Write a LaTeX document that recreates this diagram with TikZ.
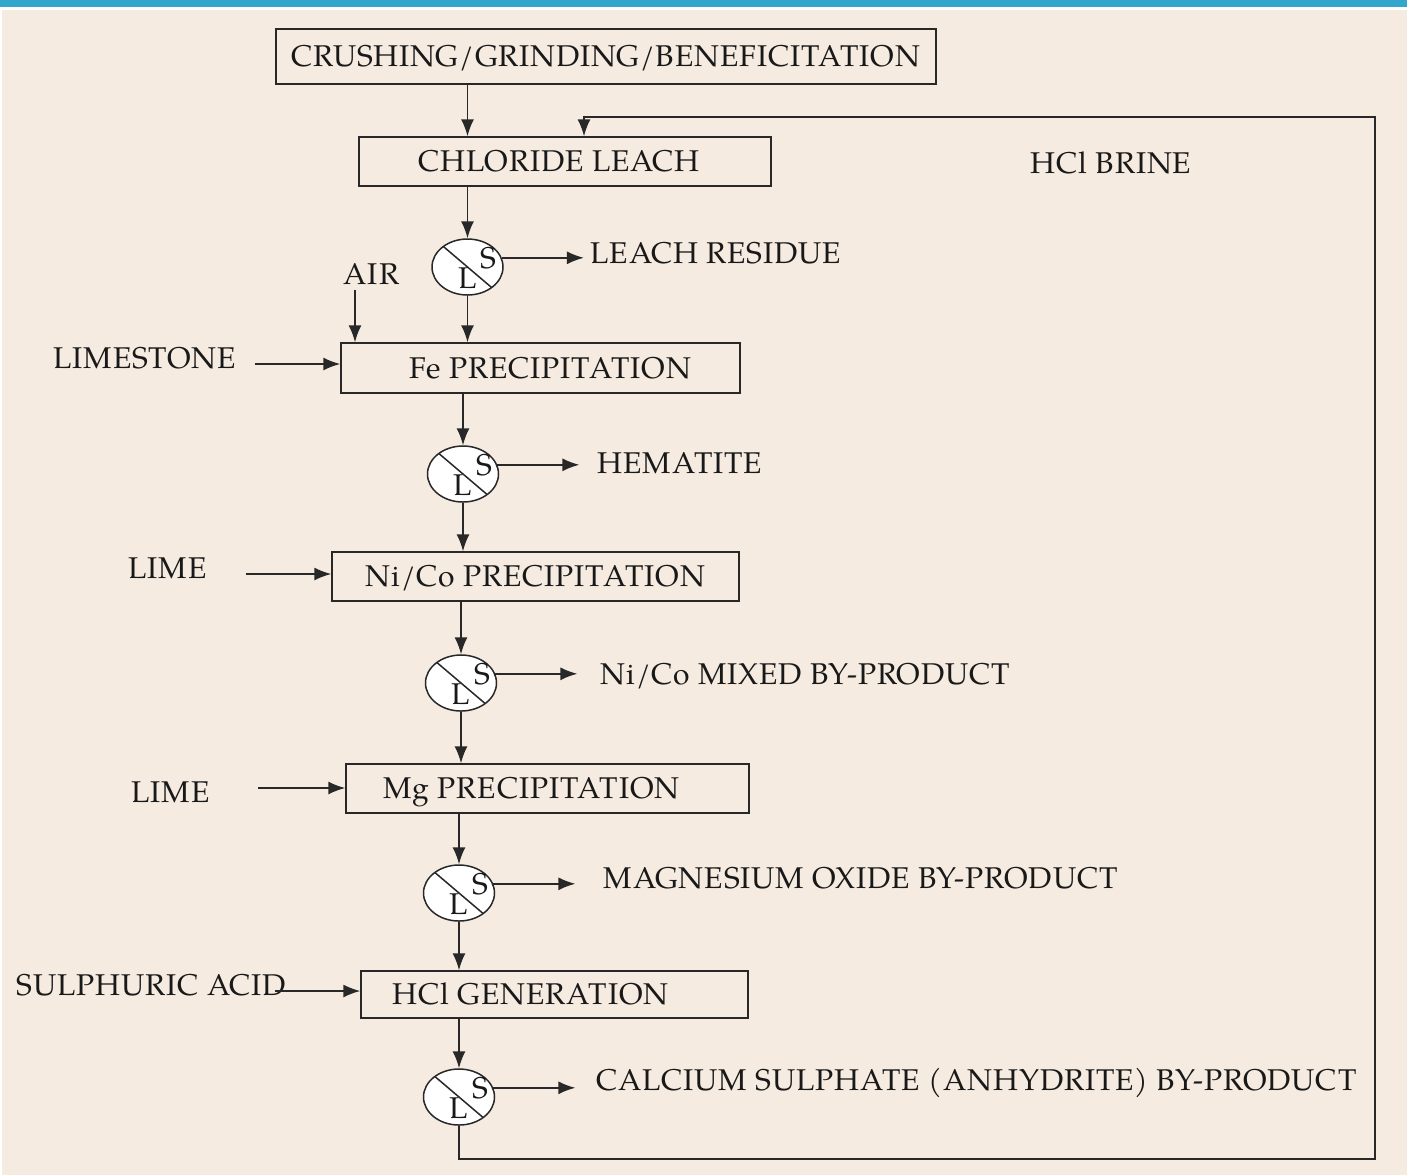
\documentclass[tikz,border=0pt]{standalone}
\usepackage{fontspec}
\setmainfont[LetterSpace=3]{TeX Gyre Pagella}
\usetikzlibrary{shapes,arrows.meta}
\definecolor{paper}{RGB}{245,235,225}
\definecolor{topbar}{RGB}{51,166,204}
\definecolor{ink}{RGB}{40,40,40}
\tikzstyle{block} = [rectangle, draw, 
    inner sep=0pt, text height=10pt, text depth=0pt]
\tikzstyle{sep} = [ellipse, draw, fill=white, 
    minimum width=35.5pt, minimum height=28pt, inner sep=0pt,
    path picture={\draw ([shift={(-20pt,17pt)}]path picture bounding box.center) -- ([shift={(20pt,-17pt)}]path picture bounding box.center);},
    label={[shift={(0pt,-5.5pt)}, inner sep=0pt]center:L},
    label={[shift={(10.5pt,4.5pt)}, inner sep=0pt]center:S}]
\tikzstyle{txt} = [anchor=west, inner sep=0pt, text height=10pt, text depth=0pt]

\begin{document}
\begin{tikzpicture}[x=0.5pt, y=-0.5pt, color=ink, text=black!90, line width=0.75pt,
    font=\fontsize{15}{18}\selectfont, >={Latex[length=8.5pt,width=6.5pt]}]
    \useasboundingbox (0,0) rectangle (1407,1175);
    \fill[white] (0,0) rectangle (1407,1175);
    \fill[paper] (2,10) rectangle (1407,1175);
    \fill[topbar] (0,0) rectangle (1407,7);

    % process steps
    \node (crush) [block, minimum width=330pt, minimum height=27.5pt] at (606,56.5) {CRUSHING/GRINDING/BENEFICITATION};
    \node (leach) [block, minimum width=206pt, minimum height=24.5pt] at (565,161.5) {\hspace*{-6pt}CHLORIDE LEACH};
    \node (fe) [block, minimum width=199.5pt, minimum height=25pt] at (540.5,368) {\hspace*{10pt}Fe PRECIPITATION};
    \node (ni) [block, minimum width=203.5pt, minimum height=24.5pt] at (535.5,576.5) {Ni/Co PRECIPITATION};
    \node (mg) [block, minimum width=201.5pt, minimum height=24.5pt] at (547.5,788.5) {\hspace*{-16pt}Mg PRECIPITATION};
    \node (hcl) [block, minimum width=193.5pt, minimum height=23.5pt] at (554.5,994.5) {\hspace*{-24pt}HCl GENERATION};

    % solid/liquid separations
    \node (s1) [sep] at (467.5,267) {};
    \node (s2) [sep] at (463,474) {};
    \node (s3) [sep] at (461,683) {};
    \node (s4) [sep] at (459,893) {};
    \node (s5) [sep] at (459,1097) {};

    % streams in and out
    \node (brine) [txt] at (1030,163) {HCl BRINE};
    \node (res) [txt] at (590,253) {LEACH RESIDUE};
    \node (air) [txt] at (343,274) {AIR};
    \node (limestone) [txt] at (53,358) {LIMESTONE};
    \node (hem) [txt] at (597,463) {HEMATITE};
    \node (lime1) [txt] at (128,568) {LIME};
    \node (nico) [txt] at (600,674) {Ni/Co MIXED BY-PRODUCT};
    \node (lime2) [txt] at (131,792) {LIME};
    \node (mgo) [txt] at (603,878) {MAGNESIUM OXIDE BY-PRODUCT};
    \node (acid) [txt] at (16,985) {SULPHURIC ACID};
    \node (caso) [txt] at (596,1080) {CALCIUM SULPHATE (ANHYDRITE) BY-PRODUCT};

    \coordinate (a0) at (355,290);
    \coordinate (a1) at (255,364);
    \coordinate (a2) at (246,574);
    \coordinate (a3) at (258,788);
    \coordinate (a4) at (275,991);
    \coordinate (c1) at (1375,1159);
    \coordinate (c2) at (1375,117);

    \draw [->] (crush.south -| s1) -- (s1 |- leach.north);
    \draw [->] (leach.south -| s1) -- (s1.north);
    \draw [->] (s1.south) -- (s1 |- fe.north);
    \draw [->] (fe.south -| s2) -- (s2.north);
    \draw [->] (s2.south) -- (s2 |- ni.north);
    \draw [->] (ni.south -| s3) -- (s3.north);
    \draw [->] (s3.south) -- (s3 |- mg.north);
    \draw [->] (mg.south -| s4) -- (s4.north);
    \draw [->] (s4.south) -- (s4 |- hcl.north);
    \draw [->] (hcl.south -| s5) -- (s5.north);

    \draw [->] (s1.15) -- ++(41pt,0);
    \draw [->] (s2.15) -- ++(41pt,0);
    \draw [->] (s3.15) -- ++(41pt,0);
    \draw [->] (s4.15) -- ++(41pt,0);
    \draw [->] (s5.15) -- ++(41pt,0);

    \draw [->] (a0) -- (a0 |- fe.north);
    \draw [->] (a1) -- (a1 -| fe.west);
    \draw [->] (a2) -- (a2 -| ni.west);
    \draw [->] (a3) -- (a3 -| mg.west);
    \draw [->] (a4) -- (a4 -| hcl.west);

    % HCl brine recycle
    \draw [->] (s5.south) |- (c1) -- (c2) -| ([xshift=9.5pt]leach.north);
\end{tikzpicture}
\end{document}
